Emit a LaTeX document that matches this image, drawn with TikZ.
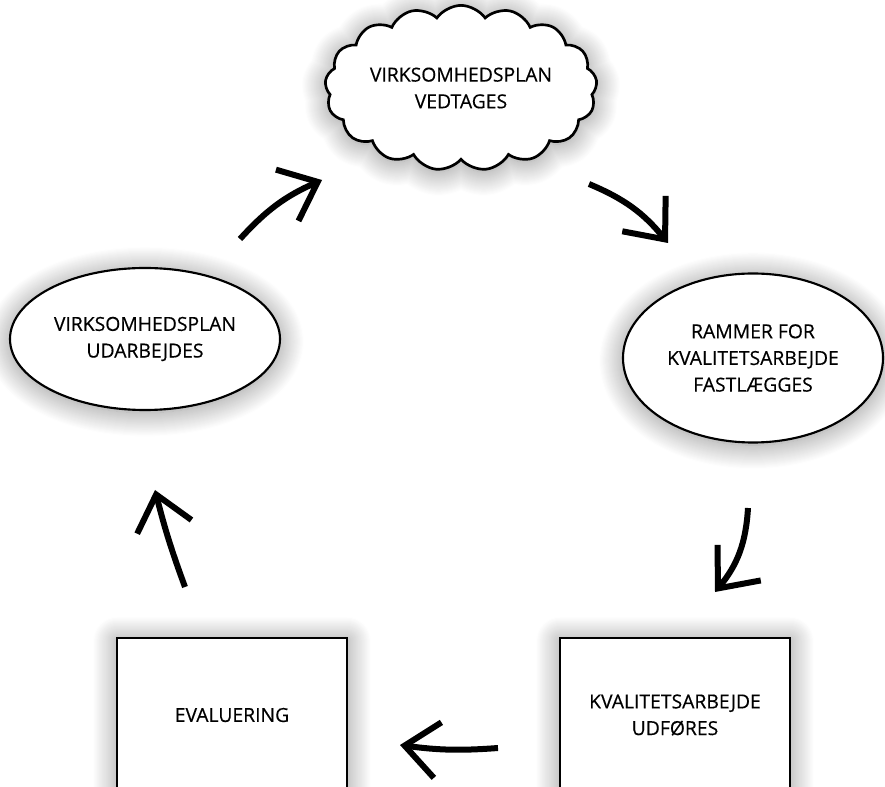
\documentclass[tikz,border=0pt]{standalone}
\usepackage{fontspec}
\setmainfont{Open Sans}[UprightFeatures={FakeBold=0.4}]
\usetikzlibrary{shapes.geometric,shapes.symbols,shadows.blur,arrows.meta}

\tikzset{every picture/.style={line width=0.75pt}}
\tikzset{
  glow/.style={blur shadow={shadow xshift=0pt,shadow yshift=-2pt,shadow blur radius=18pt,shadow blur steps=24,shadow opacity=45}},
  stage/.style={draw,fill=white,align=center,inner sep=0pt,font=\fontsize{14.5}{20}\selectfont,glow},
  flow/.style={line width=4.5pt,-{Straight Barb[length=25pt,width=42pt]}},
}

\begin{document}
\begin{tikzpicture}[x=0.75pt,y=0.75pt,yscale=-1,xscale=1]
\path[use as bounding box,clip] (0,0) rectangle (885,787);

%Cloud
\node[stage,cloud,cloud puffs=17,cloud puff arc=110,aspect=1.8,minimum width=204pt,minimum height=112.5pt,line width=2pt] (vedtages) at (461,88) {VIRKSOMHEDSPLAN\\VEDTAGES};
%Ellipses
\node[stage,ellipse,minimum width=202.5pt,minimum height=106.5pt,line width=1.6pt] (udarbejdes) at (145,339) {VIRKSOMHEDSPLAN\\UDARBEJDES};
\node[stage,ellipse,minimum width=195pt,minimum height=126.75pt,line width=1.6pt] (rammer) at (753,358) {RAMMER FOR\\KVALITETSARBEJDE\\FASTLÆGGES};
%Boxes
\node[stage,rectangle,minimum width=172.5pt,minimum height=115.5pt,line width=2.2pt] (evaluering) at (232,715) {EVALUERING};
\node[stage,rectangle,minimum width=172.5pt,minimum height=115.5pt,line width=2.2pt] (udfoeres) at (675,715) {KVALITETSARBEJDE\\UDFØRES};

%Arrow ends
\coordinate (a1s) at (240,239); \coordinate (a1e) at (322,180);
\coordinate (a2s) at (589,184); \coordinate (a2e) at (668,243);
\coordinate (a3s) at (748,508); \coordinate (a3e) at (715,592);
\coordinate (a4s) at (498,748); \coordinate (a4e) at (400,745);
\coordinate (a5s) at (185,587); \coordinate (a5e) at (155,490);

%Arrows
\draw[flow] (a1s) to[bend right=12] (a1e);
\draw[flow] (a2s) to[bend right=14] (a2e);
\draw[flow] (a3s) to[bend right=18] (a3e);
\draw[flow] (a4s) to[bend right=6] (a4e);
\draw[flow] (a5s) to[bend right=3] (a5e);

\end{tikzpicture}
\end{document}
